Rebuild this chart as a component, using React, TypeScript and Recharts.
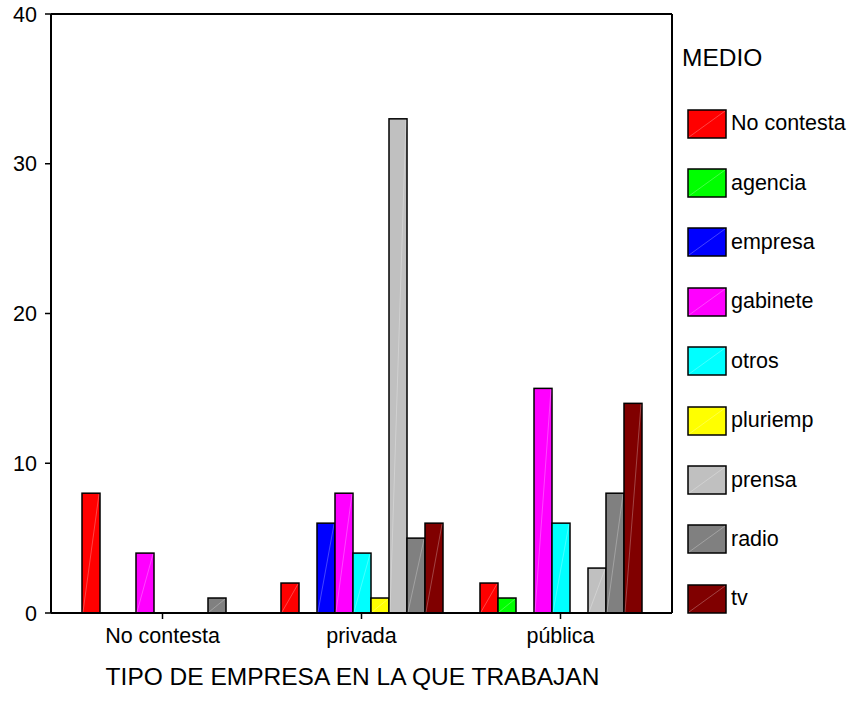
import { BarChart, Bar, XAxis, YAxis, Legend } from 'recharts';

const categories = ['No contesta', 'privada', 'pública'];
const noContesta = [8, 2, 2];
const agencia = [0, 0, 1];
const empresa = [0, 6, 0];
const gabinete = [4, 8, 15];
const otros = [0, 4, 6];
const pluriemp = [0, 1, 0];
const prensa = [0, 33, 3];
const radio = [1, 5, 8];
const tv = [0, 6, 14];
const yTicks = [0, 10, 20, 30, 40];

const series = [
  { key: 'nc', name: 'No contesta', values: noContesta, color: '#FF0000' },
  { key: 'agencia', name: 'agencia', values: agencia, color: '#00FF00' },
  { key: 'empresa', name: 'empresa', values: empresa, color: '#0000FF' },
  { key: 'gabinete', name: 'gabinete', values: gabinete, color: '#FF00FF' },
  { key: 'otros', name: 'otros', values: otros, color: '#00FFFF' },
  { key: 'pluriemp', name: 'pluriemp', values: pluriemp, color: '#FFFF00' },
  { key: 'prensa', name: 'prensa', values: prensa, color: '#C0C0C0' },
  { key: 'radio', name: 'radio', values: radio, color: '#808080' },
  { key: 'tv', name: 'tv', values: tv, color: '#800000' },
];

const data = categories.map((cat, i) => {
  const row: any = { cat };
  series.forEach((s) => {
    row[s.key] = s.values[i];
  });
  return row;
});

const FONT = 'Arial, "Liberation Sans", sans-serif';

const BarShape = (props: any) => {
  const { x, y, width, height, fill } = props;
  if (width == null || isNaN(y)) return null;
  return (
    <g>
      <rect x={x} y={y} width={width} height={height} fill={fill} stroke="#000" strokeWidth={1.5} />
      {height > 3 && (
        <line
          x1={x + 1}
          y1={y + height - 1}
          x2={x + width - 1}
          y2={y + 1}
          stroke="#fff"
          strokeOpacity={0.45}
          strokeWidth={0.6}
        />
      )}
    </g>
  );
};

const LegendBox = ({ payload }: any) => (
  <div style={{ fontFamily: FONT, color: '#000' }}>
    <div style={{ fontSize: 24.5, lineHeight: '24px', marginLeft: 2, marginBottom: 24 }}>MEDIO</div>
    {(payload || []).map((p: any) => (
      <div key={p.value} style={{ height: 59.4, display: 'flex', alignItems: 'center' }}>
        <svg width={40} height={30} style={{ marginLeft: 7 }}>
          <rect x={1} y={1} width={38} height={28} fill={p.color} stroke="#000" strokeWidth={1.5} />
          <line x1={2} y1={28} x2={38} y2={2} stroke="#fff" strokeOpacity={0.45} strokeWidth={0.6} />
        </svg>
        <span style={{ fontSize: 21.5, marginLeft: 4 }}>{p.value}</span>
      </div>
    ))}
  </div>
);

export default function App() {
  return (
    <div style={{ position: 'absolute', left: 0, top: 0, background: '#fff' }}>
      <BarChart
        width={850}
        height={719}
        data={data}
        margin={{ top: 13, right: 177, left: 0, bottom: 56 }}
        barSize={18}
        barGap={0}
      >
        <XAxis
          dataKey="cat"
          height={50}
          padding={{ left: 12, right: 12 }}
          axisLine={{ stroke: '#000', strokeWidth: 2 }}
          tickLine={{ stroke: '#000', strokeWidth: 1.5 }}
          tickSize={6}
          tickMargin={9}
          tick={{ fill: '#000', fontSize: 21.5, fontFamily: FONT }}
          label={{
            value: 'TIPO DE EMPRESA EN LA QUE TRABAJAN',
            position: 'bottom',
            offset: 5,
            dx: -9,
            fill: '#000',
            fontSize: 24.5,
            fontFamily: FONT,
          }}
        />
        <XAxis
          xAxisId="top"
          dataKey="cat"
          orientation="top"
          height={1}
          tick={false}
          tickLine={false}
          axisLine={{ stroke: '#000', strokeWidth: 2 }}
        />
        <YAxis
          width={51}
          domain={[0, 40]}
          ticks={yTicks}
          interval={0}
          axisLine={{ stroke: '#000', strokeWidth: 2 }}
          tickLine={{ stroke: '#000', strokeWidth: 1.5 }}
          tickSize={6}
          tickMargin={8}
          tick={{ fill: '#000', fontSize: 21.5, fontFamily: FONT }}
        />
        <YAxis
          yAxisId="right"
          orientation="right"
          width={1}
          domain={[0, 40]}
          tick={false}
          tickLine={false}
          axisLine={{ stroke: '#000', strokeWidth: 2 }}
        />
        <Legend
          layout="vertical"
          align="center"
          verticalAlign="middle"
          content={LegendBox}
          wrapperStyle={{ left: 680, top: 46, width: 170 }}
        />
        {series.map((s) => (
          <Bar
            key={s.key}
            dataKey={s.key}
            name={s.name}
            fill={s.color}
            shape={<BarShape />}
            isAnimationActive={false}
          />
        ))}
      </BarChart>
    </div>
  );
}
